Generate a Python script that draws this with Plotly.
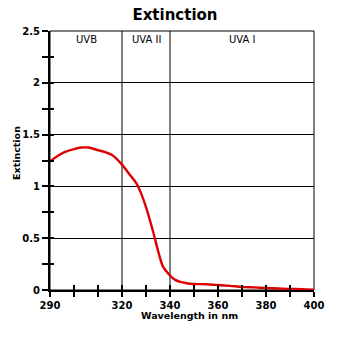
import plotly.graph_objects as go

# Data
wavelength = [290, 293, 296, 300, 303, 306, 310, 313, 316, 320, 323, 326, 328, 330, 333, 335, 337, 340, 342, 344, 347, 350, 355, 360, 365, 370, 375, 380, 385, 390, 395, 400]
extinction = [1.24, 1.29, 1.33, 1.36, 1.375, 1.375, 1.35, 1.33, 1.30, 1.21, 1.12, 1.03, 0.93, 0.80, 0.56, 0.38, 0.23, 0.14, 0.10, 0.08, 0.065, 0.058, 0.055, 0.048, 0.04, 0.03, 0.025, 0.019, 0.015, 0.01, 0.008, 0.003]

band_edges = [290, 320, 340, 400]
band_names = ["UVB", "UVA II", "UVA I"]

x_tickvals = [290, 300, 310, 320, 330, 340, 350, 360, 370, 380, 390, 400]
x_ticktext = ["290", "", "", "320", "", "340", "", "360", "", "380", "", "400"]
y_tickvals = [0, 0.5, 1, 1.5, 2, 2.5]
y_ticktext = ["0", "0.5", "1", "1.5", "2", "2.5"]

xr = [290, 400]
yr = [0, 2.5]

tickfont = dict(family="DejaVu Sans", size=10, color="black", weight="bold")
labelfont = dict(family="DejaVu Sans", size=9.5, color="black", weight="bold")

fig = go.Figure()
fig.add_trace(go.Scatter(x=wavelength, y=extinction, mode="lines",
                         line=dict(color="#dd0000", width=2.4, shape="spline", smoothing=0.7),
                         showlegend=False, hoverinfo="skip"))
# invisible trace to activate overlay axes (inner halves of the crossing ticks)
fig.add_trace(go.Scatter(x=wavelength, y=extinction, mode="lines", xaxis="x2", yaxis="y2",
                         line=dict(color="rgba(0,0,0,0)", width=0),
                         showlegend=False, hoverinfo="skip"))

fig.update_layout(
    width=350, height=350,
    margin=dict(l=50, r=36, t=31, b=60, autoexpand=False),
    paper_bgcolor="white", plot_bgcolor="white",
    title=dict(text="Extinction", x=0.5, xanchor="center", y=0.957, yanchor="middle",
               font=dict(family="DejaVu Sans", size=15, color="black", weight="bold")),
    xaxis=dict(range=xr, tickmode="array", tickvals=x_tickvals, ticktext=x_ticktext,
               ticks="outside", ticklen=5, tickwidth=2, tickcolor="black", automargin=False,
               showline=True, linewidth=2, linecolor="black", showgrid=False, zeroline=False,
               tickfont=tickfont, fixedrange=True),
    yaxis=dict(range=yr, tickmode="array", tickvals=y_tickvals, ticktext=y_ticktext,
               ticks="outside", ticklen=6, tickwidth=2, tickcolor="black", automargin=False,
               minor=dict(dtick=0.25, tick0=0, ticks="outside", ticklen=6, tickwidth=2, tickcolor="black", showgrid=False),
               showline=True, linewidth=2, linecolor="black",
               showgrid=True, gridcolor="black", gridwidth=1, zeroline=False,
               tickfont=tickfont, fixedrange=True),
    xaxis2=dict(range=xr, overlaying="x", anchor="y2", side="bottom", tickmode="array", tickvals=x_tickvals,
                ticks="inside", ticklen=5, tickwidth=2, tickcolor="black", automargin=False,
                showticklabels=False, showgrid=False, zeroline=False, showline=False),
    yaxis2=dict(range=yr, overlaying="y", anchor="x2", side="left", tickmode="array", tickvals=y_tickvals,
                ticks="inside", ticklen=4, tickwidth=2, tickcolor="black", automargin=False,
                minor=dict(dtick=0.25, tick0=0, ticks="inside", ticklen=4, tickwidth=2, tickcolor="black", showgrid=False),
                showticklabels=False, showgrid=False, zeroline=False, showline=False),
)

# axis titles
fig.add_annotation(text="Wavelength in nm", xref="paper", yref="paper", x=0.527, y=-0.097,
                   xanchor="center", yanchor="middle", showarrow=False, font=labelfont)
fig.add_annotation(text="Extinction", xref="paper", yref="paper", x=-0.125, y=0.529,
                   xanchor="center", yanchor="middle", textangle=-90, showarrow=False, font=labelfont)

# plot border (top/right)
fig.add_shape(type="rect", xref="paper", yref="paper", x0=0, x1=1, y0=0, y1=1,
              line=dict(color="black", width=1), layer="below")
# band boundaries and labels
for e in band_edges[1:-1]:
    fig.add_shape(type="line", xref="x", yref="paper", x0=e, x1=e, y0=0, y1=1,
                  line=dict(color="black", width=1), layer="below")
for i, name in enumerate(band_names):
    fig.add_annotation(x=(band_edges[i] + band_edges[i + 1]) / 2, y=2.42, xref="x", yref="y",
                       text=name, showarrow=False,
                       font=dict(family="DejaVu Sans", size=10, color="black"))

fig.write_html("out.html")
